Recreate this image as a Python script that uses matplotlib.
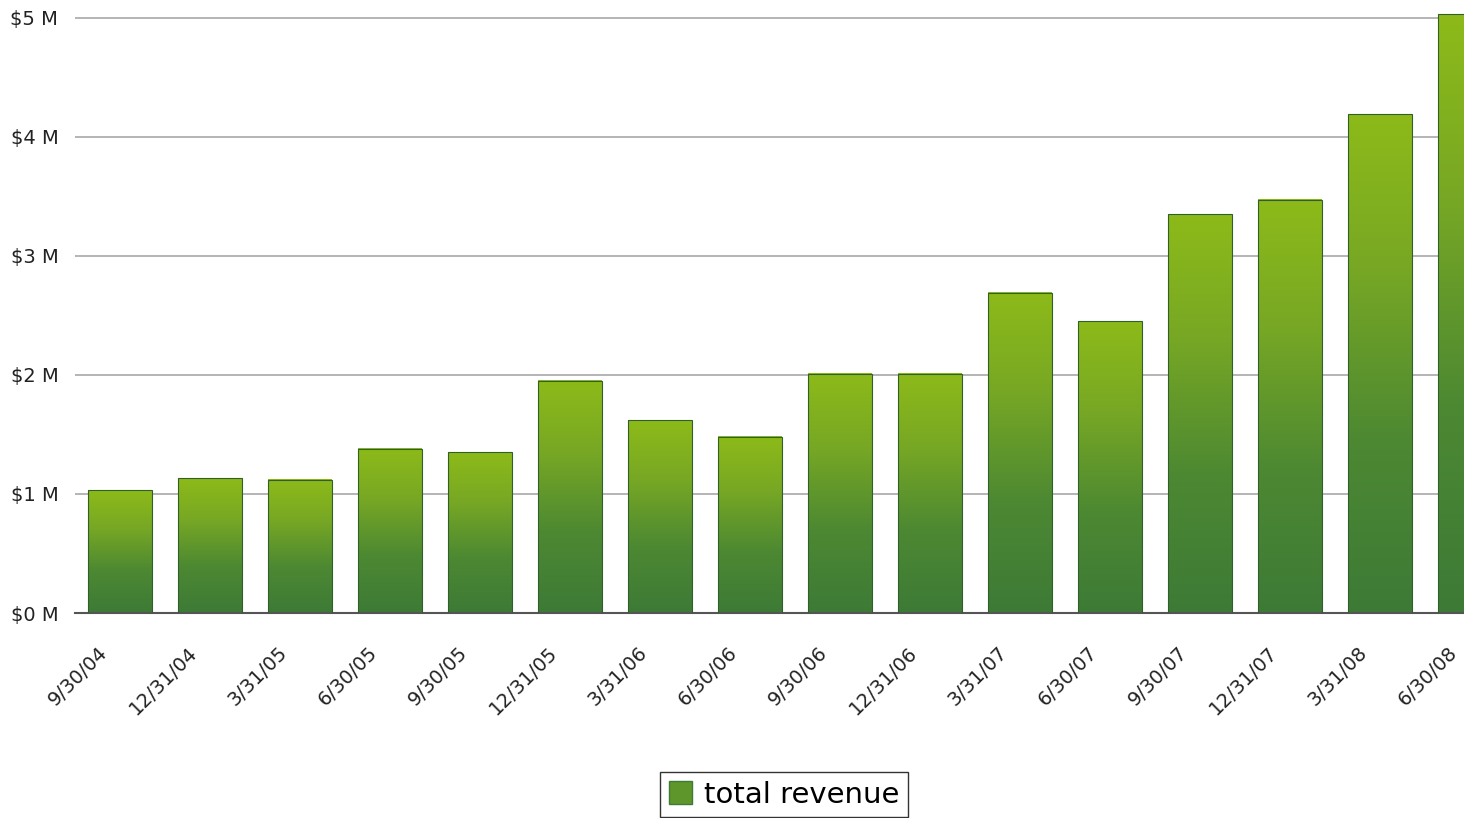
import matplotlib
matplotlib.use("Agg")
import matplotlib.pyplot as plt
from matplotlib.colors import LinearSegmentedColormap
from matplotlib.patches import Patch
import numpy as np

quarters = ["9/30/04", "12/31/04", "3/31/05", "6/30/05", "9/30/05", "12/31/05",
            "3/31/06", "6/30/06", "9/30/06", "12/31/06", "3/31/07", "6/30/07",
            "9/30/07", "12/31/07", "3/31/08", "6/30/08"]
revenue = [1.03, 1.13, 1.12, 1.38, 1.35, 1.95, 1.62, 1.48, 2.01, 2.01,
           2.69, 2.45, 3.35, 3.47, 4.19, 5.03]  # $ millions
yticks = [0, 1, 2, 3, 4, 5]

# bottom -> top colours of each bar
green = LinearSegmentedColormap.from_list(
    "grn", [(0.0, "#3d7a36"), (0.35, "#4d8932"), (0.7, "#78a824"), (1.0, "#8dba19")])

fig = plt.figure(figsize=(14.64, 8.18), dpi=100)
ax = fig.add_axes([75 / 1464, 205 / 818, 1440 / 1464, 600 / 818])

x = np.arange(len(quarters))
bars = ax.bar(x, revenue, width=0.71, color="none", edgecolor="#2f5f2a",
              linewidth=0.8, zorder=3)

grad = np.linspace(0, 1, 256).reshape(-1, 1)
for b in bars:
    x0, w, h = b.get_x(), b.get_width(), b.get_height()
    ax.imshow(grad, cmap=green, origin="lower", aspect="auto",
              extent=(x0, x0 + w, 0, h), zorder=2, interpolation="bicubic")

ax.set_xlim(-0.5, len(quarters) - 0.5)
ax.set_ylim(0, 5.04)
ax.set_yticks(yticks)
ax.set_yticklabels([f"${v} M" for v in yticks], fontsize=14, color="#222222")
ax.set_xticks(x)
ax.set_xticklabels([])
# category labels sit a little left of each bar centre
for i, q in enumerate(quarters):
    ax.annotate(q, xy=(i, 0), xycoords=("data", "axes fraction"),
                xytext=(-22, -30), textcoords="offset pixels",
                rotation=45, rotation_mode="anchor", ha="right", va="top",
                fontsize=14, color="#222222", annotation_clip=False)
ax.tick_params(axis="y", length=0, pad=12)
ax.tick_params(axis="x", length=0)

ax.grid(axis="y", color="#a8a8a8", linewidth=1.2, zorder=1)
for s in ["top", "right", "left"]:
    ax.spines[s].set_visible(False)
ax.spines["bottom"].set_color("#555555")
ax.spines["bottom"].set_linewidth(1.5)

handle = Patch(facecolor="#5f962c", edgecolor="#3d7a36")
leg = fig.legend([handle], ["total revenue"], loc="lower center",
                 bbox_to_anchor=(784 / 1464, -0.017), fontsize=21, frameon=True,
                 fancybox=False, edgecolor="black", handlelength=0.8,
                 handleheight=0.8, handletextpad=0.4, borderpad=0.3)
leg.get_frame().set_linewidth(1.0)

fig.savefig("out.png", dpi=100)
